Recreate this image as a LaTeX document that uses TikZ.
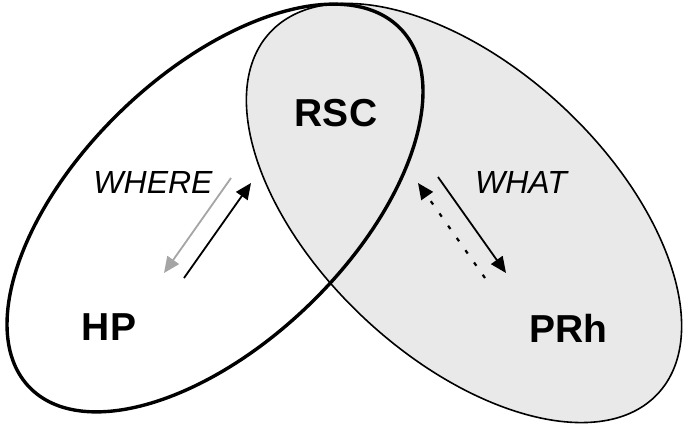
\documentclass[tikz,border=0pt]{standalone}
\usepackage{fontspec}
\setmainfont{Liberation Sans}
\usepackage{xcolor}
\usetikzlibrary{arrows.meta}

\definecolor{lobegray}{RGB}{233,233,233}
\definecolor{streamgray}{RGB}{165,165,165}

\begin{document}
\begin{tikzpicture}[
    % Define styles for the regions, labels and paths
        x=0.5pt, y=0.5pt,
        region/.style={font=\fontsize{19.5}{22}\selectfont\bfseries},
        stream/.style={font=\fontsize{16}{18}\selectfont\itshape},
        arrow/.style={-{Triangle[length=8pt, width=7pt]}, line width=0.9pt},
        dotarrow/.style={arrow, line width=1.1pt, dash pattern=on 2pt off 5.5pt},
        grayarrow/.style={arrow, draw=streamgray, fill=streamgray}
    ]
        \useasboundingbox (0,0) rectangle (685,425);

        % Draw the two lobes
        \fill[white, shift={(215,217)}, rotate=44] (0,0) ellipse (258 and 135);
        \draw[fill=lobegray, line width=0.8pt, shift={(464,212)}, rotate=-43] (0,0) ellipse (265 and 145);
        \draw[line width=1.7pt, shift={(215,217)}, rotate=44] (0,0) ellipse (258 and 135);

        % Define the nodes
        \node[region] (rsc) at (336,312) {RSC};

        \node[region] (hp) at (109,98) {HP};

        \node[region] (prh) at (568,97) {PRh};

        \node[stream] (where) at (153,243) {WHERE};

        \node[stream] (what) at (521,243) {WHAT};

        % Arrow ends
        \coordinate (whereout) at (231,247);
        \coordinate (wherein) at (164,152);
        \coordinate (wherefrom) at (184,147);
        \coordinate (whereto) at (251,242);
        \coordinate (whatfrom) at (438,248);
        \coordinate (whatto) at (506,152);
        \coordinate (whatback) at (485,147);
        \coordinate (whatup) at (418,242);

        % Draw the arrows
        \draw[grayarrow] (whereout) -- (wherein);

        \draw[arrow] (wherefrom) -- (whereto);

        \draw[arrow] (whatfrom) -- (whatto);

        \draw[dotarrow] (whatback) -- (whatup);
    \end{tikzpicture}
\end{document}
